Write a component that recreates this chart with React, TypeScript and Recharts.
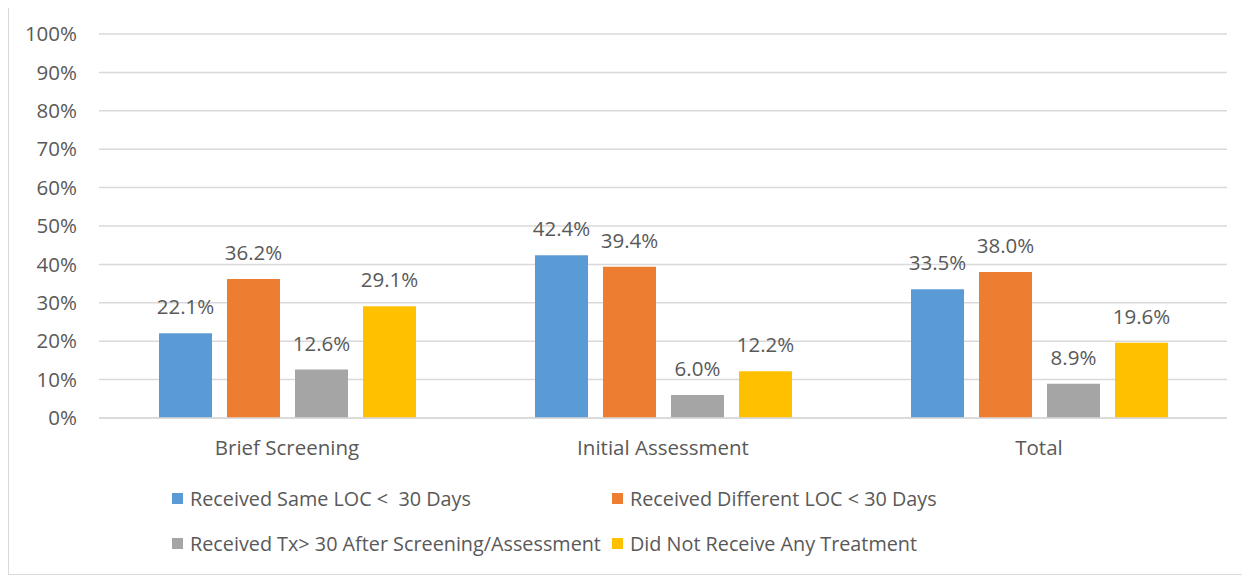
import React from "react";
import {
  BarChart,
  Bar,
  XAxis,
  YAxis,
  CartesianGrid,
  LabelList,
} from "recharts";

const categories = ["Brief Screening", "Initial Assessment", "Total"];
const sameLoc = [22.1, 42.4, 33.5];
const differentLoc = [36.2, 39.4, 38.0];
const txAfter = [12.6, 6.0, 8.9];
const noTreatment = [29.1, 12.2, 19.6];
const yTicks = [0, 10, 20, 30, 40, 50, 60, 70, 80, 90, 100];

const series = [
  { key: "same", name: "Received Same LOC <  30 Days", color: "#5B9BD5", values: sameLoc },
  { key: "diff", name: "Received Different LOC < 30 Days", color: "#ED7D31", values: differentLoc },
  { key: "tx", name: "Received Tx> 30 After Screening/Assessment", color: "#A5A5A5", values: txAfter },
  { key: "none", name: "Did Not Receive Any Treatment", color: "#FFC000", values: noTreatment },
];

const data = categories.map((name, i) => {
  const row: any = { name };
  series.forEach((s) => {
    row[s.key] = s.values[i];
  });
  return row;
});

const FONT = "'Open Sans', sans-serif";
const TEXT = "#595959";

const App = () => {
  return (
    <div
      style={{
        position: "relative",
        width: 1242,
        height: 568,
        marginTop: -1,
        boxSizing: "border-box",
        border: "1px solid #d9d9d9",
        borderRight: "none",
        background: "#fff",
        fontFamily: FONT,
      }}
    >
      <BarChart
        width={1240}
        height={566}
        data={data}
        margin={{ top: 26, right: 22, left: 0, bottom: 116 }}
        barCategoryGap={60}
        barGap={15}
      >
        <CartesianGrid vertical={false} stroke="#d9d9d9" strokeWidth={1.5} />
        <XAxis
          dataKey="name"
          height={40}
          tickLine={false}
          axisLine={{ stroke: "#d9d9d9", strokeWidth: 1.5 }}
          tickSize={0}
          tickMargin={22}
          tick={{ fill: TEXT, fontSize: 20.5, fontFamily: FONT }}
        />
        <YAxis
          width={90}
          domain={[0, 100]}
          ticks={yTicks}
          interval={0}
          tickFormatter={(v) => `${v}%`}
          tickLine={false}
          axisLine={false}
          tickSize={0}
          tickMargin={22}
          tick={{ fill: TEXT, fontSize: 20.5, fontFamily: FONT }}
        />
        {series.map((s) => (
          <Bar key={s.key} dataKey={s.key} name={s.name} fill={s.color} isAnimationActive={false}>
            <LabelList
              dataKey={s.key}
              position="top"
              offset={19}
              formatter={(v: any) => `${Number(v).toFixed(1)}%`}
              style={{ fill: TEXT, fontSize: 20.5, fontFamily: FONT }}
            />
          </Bar>
        ))}
      </BarChart>
      <div
        style={{
          position: "absolute",
          left: 163,
          top: 478,
          display: "grid",
          gridTemplateColumns: "440px 440px",
          rowGap: 21,
          fontSize: 19.8,
          color: TEXT,
        }}
      >
        {series.map((s) => (
          <div key={s.key} style={{ display: "flex", alignItems: "center", height: 24, whiteSpace: "pre" }}>
            <span style={{ width: 11, height: 11, background: s.color, marginRight: 7, display: "inline-block", flexShrink: 0 }} />
            {s.name}
          </div>
        ))}
      </div>
    </div>
  );
};

export default App;
